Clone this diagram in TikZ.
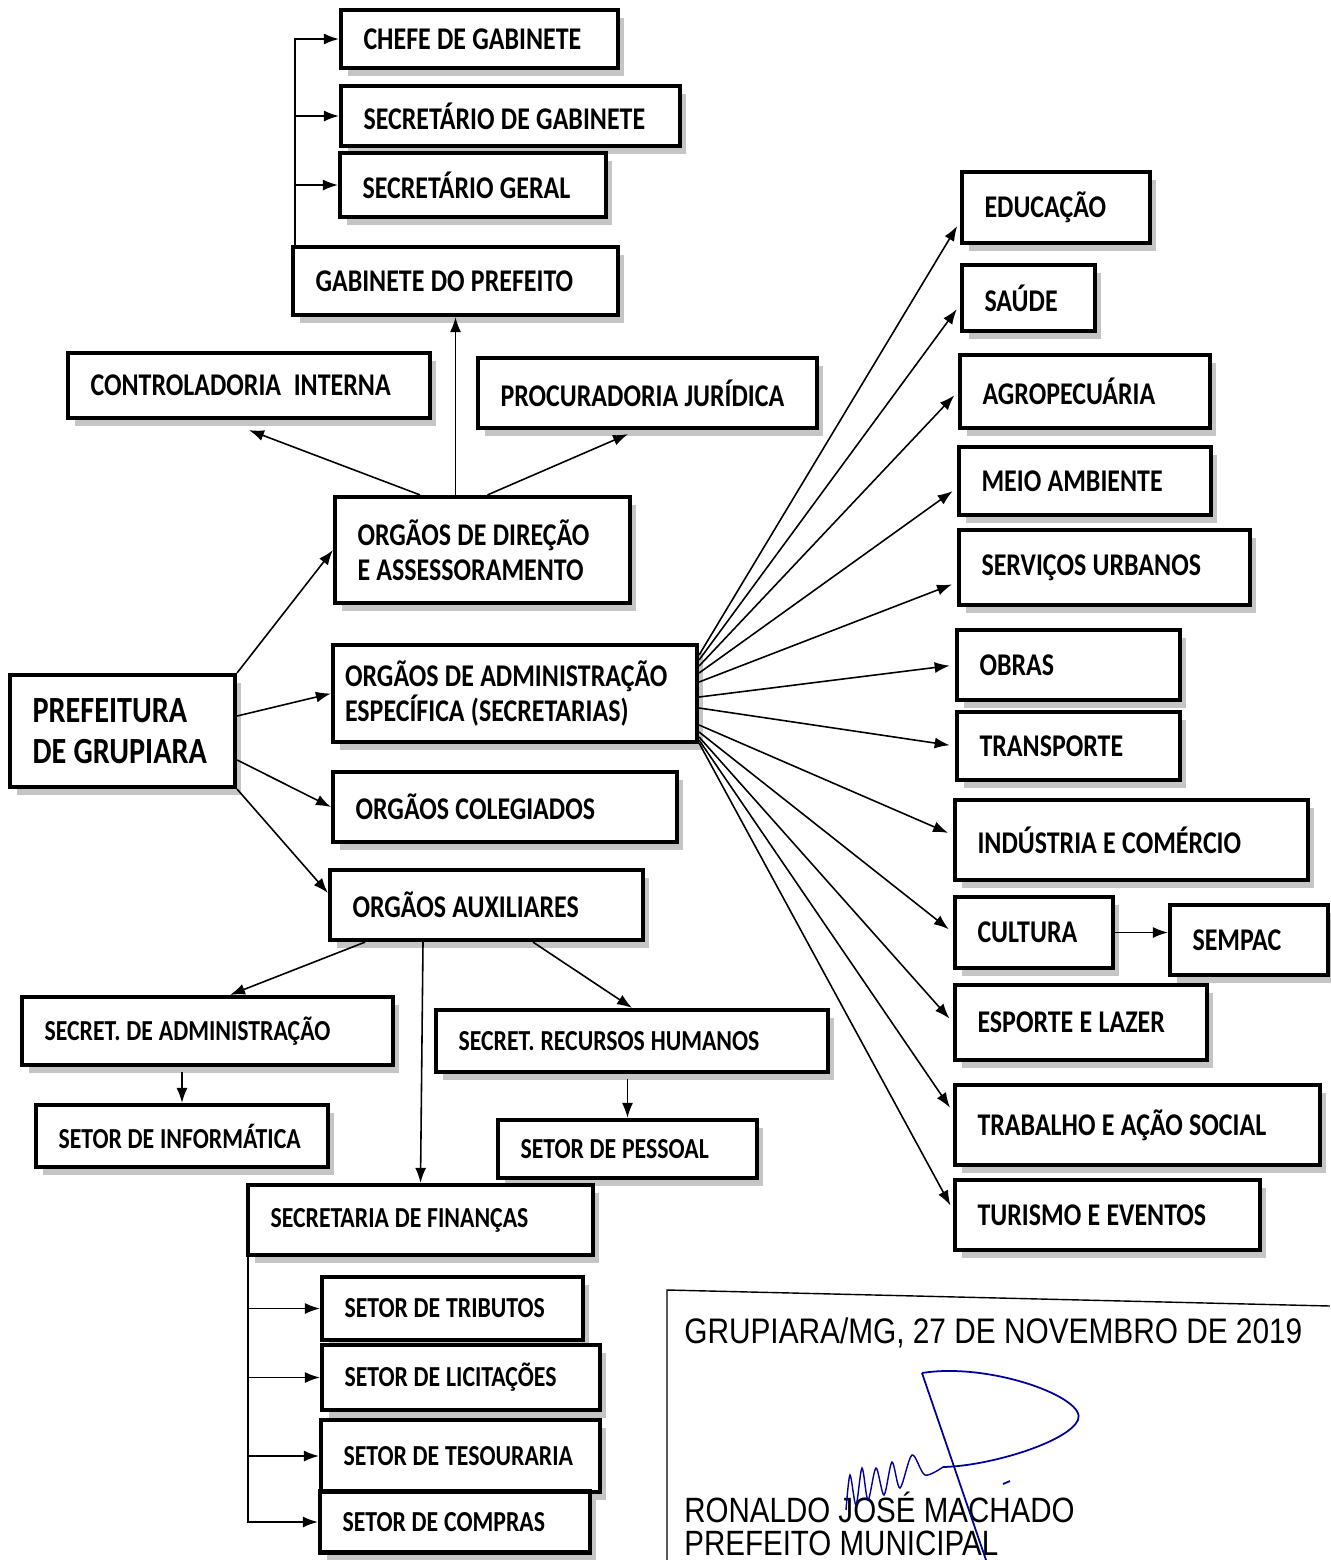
\documentclass[tikz,border=0pt]{standalone}
\usepackage{fontspec}
\setmainfont{Carlito}[FakeStretch=0.82]
\newfontfamily\sigfont{Liberation Sans}[FakeStretch=0.84]
\usetikzlibrary{arrows.meta,shadows}
\newcommand\tightsp{\spaceskip=0.2em plus 0.05em\relax}

\begin{document}
\begin{tikzpicture}[x=0.02cm, y=-0.02cm]
  \tikzstyle{box} = [rectangle, draw, line width=2.4pt, fill=white, align=left,
                     inner xsep=0.45cm, inner ysep=0pt,
                     font=\bfseries\fontsize{18}{20}\selectfont, execute at begin node=\tightsp,
                     drop shadow={shadow xshift=0.13cm, shadow yshift=-0.16cm, fill=black!45}]
  \tikzstyle{lowbox} = [font=\bfseries\fontsize{16.5}{19}\selectfont]
  \tikzstyle{arr} = [-{Latex[length=0.3cm,width=0.22cm]}, line width=0.9pt]
  \tikzstyle{fan} = [arr, shorten >=3pt]

\useasboundingbox (0,0) rectangle (1330,1560);

% gabinete
\node[box, text width=4.64cm, minimum height=1.16cm] (chefe) at (479.5,39) {CHEFE DE GABINETE};
\node[box, text width=5.88cm, minimum height=1.2cm] (secgab) at (510.5,116) {SECRETÁRIO DE GABINETE};
\node[box, text width=4.42cm, minimum height=1.28cm] (secger) at (473,185) {SECRETÁRIO GERAL};
\node[box, text width=5.6cm, minimum height=1.36cm] (gab) at (455.5,281) {GABINETE DO PREFEITO};
\node[box, text width=6.34cm, minimum height=1.3cm] (contr) at (249,385.5) {CONTROLADORIA\ \ INTERNA};
\node[box, text width=5.88cm, minimum height=1.4cm] (procur) at (647.5,393) {PROCURADORIA JURÍDICA};
\node[box, text width=5cm, minimum height=2.12cm] (dir) at (482.5,550) {ORGÃOS DE DIREÇÃO\\E ASSESSORAMENTO};

% prefeitura e orgaos
\node[box, text width=3.6cm, minimum height=2.24cm, font=\bfseries\fontsize{21}{23}\selectfont] (pref) at (122.5,731) {PREFEITURA\\DE GRUPIARA};
\node[box, text width=6.8cm, inner xsep=0.24cm, minimum height=1.94cm] (adm) at (515,693.5) {ORGÃOS DE ADMINISTRAÇÃO\\ESPECÍFICA (SECRETARIAS)};
\node[box, text width=5.98cm, minimum height=1.4cm] (coleg) at (505,807) {ORGÃOS COLEGIADOS};
\node[box, text width=5.36cm, minimum height=1.4cm] (aux) at (486.5,905) {ORGÃOS AUXILIARES};

% auxiliares
\node[box, lowbox, text width=6.52cm, minimum height=1.36cm] (secadm) at (207.5,1031) {SECRET. DE ADMINISTRAÇÃO};
\node[box, lowbox, text width=6.94cm, minimum height=1.24cm] (secrh) at (632,1041) {SECRET. RECURSOS HUMANOS};
\node[box, lowbox, text width=4.94cm, minimum height=1.24cm] (setinf) at (182,1136) {SETOR DE INFORMÁTICA};
\node[box, lowbox, text width=4.28cm, minimum height=1.16cm] (setpes) at (627.5,1149) {SETOR DE PESSOAL};
\node[box, lowbox, text width=6cm, minimum height=1.4cm] (secfin) at (420.5,1220) {SECRETARIA DE FINANÇAS};
\node[box, lowbox, text width=4.32cm, minimum height=1.26cm] (settrib) at (452.5,1308.5) {SETOR DE TRIBUTOS};
\node[box, lowbox, text width=4.66cm, minimum height=1.3cm] (setlic) at (461,1377.5) {SETOR DE LICITAÇÕES};
\node[box, lowbox, text width=4.68cm, minimum height=1.44cm] (settes) at (460.5,1456) {SETOR DE TESOURARIA};
\node[box, lowbox, text width=4.5cm, minimum height=1.22cm] (setcomp) at (455,1522) {SETOR DE COMPRAS};

% secretarias
\node[box, text width=2.86cm, minimum height=1.42cm] (educ) at (1056,207.5) {EDUCAÇÃO};
\node[box, text width=1.76cm, minimum height=1.32cm] (saude) at (1028.5,298) {SAÚDE};
\node[box, text width=4.1cm, minimum height=1.46cm] (agro) at (1085,391.5) {AGROPECUÁRIA};
\node[box, text width=4.14cm, minimum height=1.36cm] (meio) at (1085,481) {MEIO AMBIENTE};
\node[box, text width=4.92cm, minimum height=1.5cm] (serv) at (1104.5,567.5) {SERVIÇOS URBANOS};
\node[box, text width=3.56cm, minimum height=1.4cm] (obras) at (1068.5,665) {OBRAS};
\node[box, text width=3.56cm, minimum height=1.36cm] (transp) at (1068.5,746) {TRANSPORTE};
\node[box, text width=6.16cm, minimum height=1.6cm] (indus) at (1131.5,840) {INDÚSTRIA E COMÉRCIO};
\node[box, text width=2.26cm, minimum height=1.42cm] (cult) at (1034,932.5) {CULTURA};
\node[box, text width=2.26cm, minimum height=1.4cm] (sempac) at (1249,940) {SEMPAC};
\node[box, text width=4.14cm, minimum height=1.5cm] (esp) at (1081,1022.5) {ESPORTE E LAZER};
\node[box, text width=6.4cm, minimum height=1.6cm] (trab) at (1137.5,1125) {TRABALHO E AÇÃO SOCIAL};
\node[box, text width=5.2cm, minimum height=1.4cm] (tur) at (1107.5,1215) {TURISMO E EVENTOS};

% assinatura
\draw[line width=0.8pt] (667,1560) -- (667,1290) -- (1330,1306);
\node[anchor=west, inner sep=0pt, font=\sigfont\fontsize{20.2}{24}\selectfont] (date) at (684,1333) {GRUPIARA/MG, 27 DE NOVEMBRO DE 2019};
\node[anchor=west, inner sep=0pt, font=\sigfont\fontsize{20}{24}\selectfont] (nome) at (684,1507) {RONALDO JOSÉ MACHADO};
\node[anchor=west, inner sep=0pt, font=\sigfont\fontsize{20}{24}\selectfont] (cargo) at (684,1543) {PREFEITO MUNICIPAL};
\draw[blue!60!black, line width=1pt] (922,1373) .. controls (990,1362) and (1088,1398) .. (1078,1420)
     .. controls (1068,1442) and (990,1466) .. (943,1467);
\draw[blue!60!black, line width=1pt] (922,1373) -- (986,1560);
\draw[blue!60!black, line width=0.8pt] plot[smooth] coordinates {(846,1510) (850,1475) (856,1505) (862,1468) (868,1500) (876,1468) (884,1495) (892,1462) (900,1488) (912,1455) (925,1475) (943,1467)};
\draw[blue!60!black, line width=1pt] (1003,1484) -- (1010,1481);

% connectors
\draw[arr] ([xshift=0.08cm]gab.north west) |- (chefe.west);
\draw[arr] ([xshift=0.08cm]gab.north west) |- (secgab.west);
\draw[arr] ([xshift=0.08cm]gab.north west) |- (secger.west);
\draw[arr] (gab.south |- dir.north) -- (gab.south);
\draw[arr] ([xshift=-1.25cm]dir.north) -- ([yshift=-0.2cm]contr.south);
\draw[arr] ([xshift=0.1cm]dir.north) -- ([xshift=-0.39cm,yshift=-0.08cm]procur.south);
\draw[arr] (pref.north east) -- (dir.west);
\draw[arr] ([yshift=0.3cm]pref.east) -- (adm.west);
\draw[arr] ([yshift=-0.58cm]pref.east) -- (coleg.west);
\draw[arr] (pref.south east) -- ([yshift=0.24cm]aux.west);
\draw[arr] ([xshift=-2.43cm]aux.south) -- ([xshift=0.45cm]secadm.north);
\draw[arr] ([xshift=-1.27cm]aux.south) -- (secfin.north);
\draw[arr] ([xshift=0.93cm]aux.south) -- (secrh.north);
\draw[arr, shorten <=3pt] (setinf.north |- secadm.south) -- (setinf.north);
\draw[arr, shorten <=3pt] (setpes.north |- secrh.south) -- (setpes.north);
\draw[arr] ([xshift=0.04cm]secfin.south west) |- (settrib.west);
\draw[arr] ([xshift=0.04cm]secfin.south west) |- (setlic.west);
\draw[arr] ([xshift=0.04cm]secfin.south west) |- (settes.west);
\draw[arr] ([xshift=0.04cm]secfin.south west) |- (setcomp.west);
\draw[arr] (cult.east) -- (cult.east -| sempac.west);
\draw[fan] ([yshift=0.77cm]adm.east) -- ([yshift=-0.28cm]educ.west);
\draw[fan] ([yshift=0.67cm]adm.east) -- ([yshift=-0.14cm]saude.west);
\draw[fan] ([yshift=0.55cm]adm.east) -- (agro.west);
\draw[fan] ([yshift=0.41cm]adm.east) -- ([yshift=-0.14cm]meio.west);
\draw[fan] ([yshift=0.23cm]adm.east) -- ([yshift=-0.3cm]serv.west);
\draw[fan] ([yshift=-0.07cm]adm.east) -- (obras.west);
\draw[fan] ([yshift=-0.29cm]adm.east) -- (transp.west);
\draw[fan] ([yshift=-0.63cm]adm.east) -- ([yshift=0.1cm]indus.west);
\draw[fan] ([yshift=-0.77cm]adm.east) -- (cult.west);
\draw[fan] ([yshift=-0.87cm]adm.east) -- (esp.west);
\draw[fan] ([yshift=-0.93cm]adm.east) -- ([yshift=0.26cm]trab.west);
\draw[fan] ([yshift=-0.99cm]adm.east) -- ([yshift=0.1cm]tur.west);
\end{tikzpicture}
\end{document}
